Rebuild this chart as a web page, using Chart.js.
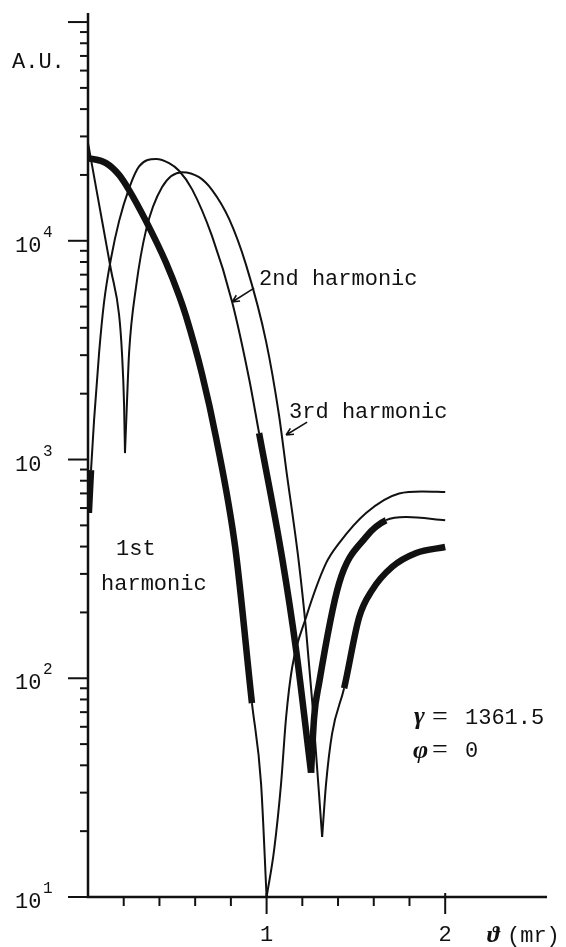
<!DOCTYPE html>
<html lang="en">
<head>
<meta charset="UTF-8">
<title>Harmonics - angular distribution</title>
<script src="https://cdn.jsdelivr.net/npm/chart.js"></script>
<style>
  html, body { margin: 0; padding: 0; background: #fff; }
  #wrap { width: 566px; height: 947px; }
</style>
</head>
<body>
<div id="wrap"><canvas id="harmChart" width="566" height="947"></canvas></div>
<script>
// theta in mr, intensity in arbitrary units
const h1Theta = [0, 0.101, 0.174, 0.230, 0.325, 0.437, 0.510, 0.549, 0.639, 0.717, 0.824, 0.918, 0.969, 1.0,
                 1.042, 1.081, 1.109, 1.143, 1.221, 1.333, 1.406, 1.557, 1.742, 1.87, 2.0];
const h1Amp = [23900, 22650, 20000, 17060, 12300, 7940, 5620, 4520, 2450, 1260, 398, 77, 33, 10,
               16.4, 33, 66, 112, 190, 336, 415, 570, 700, 715, 710];

const h2Theta = [0.005, 0.017, 0.034, 0.062, 0.090, 0.129, 0.174, 0.230, 0.286, 0.381, 0.454, 0.510, 0.583,
                 0.695, 0.807, 0.902, 0.958, 1.087, 1.165, 1.249, 1.266, 1.294, 1.406, 1.557, 1.669, 1.782, 2.0];
const h2Amp = [570, 895, 1517, 3070, 5250, 8320, 12300, 17380, 21880, 23650, 22650, 20900, 17180,
               10470, 5250, 2340, 1320, 355, 135, 37, 66, 95, 272, 443, 528, 546, 528];

const h3Theta = [0, 0.022, 0.078, 0.129, 0.174, 0.190, 0.202, 0.207, 0.218, 0.230, 0.269, 0.325, 0.415,
                 0.527, 0.622, 0.695, 0.790, 0.885, 0.997, 1.070, 1.109, 1.182, 1.221, 1.255, 1.311,
                 1.333, 1.367, 1.434, 1.518, 1.591, 1.703, 1.838, 2.0];
const h3Amp = [28000, 22300, 12450, 7330, 4590, 3090, 1780, 1070, 1810, 3070, 6150, 11190, 17620,
               20600, 19540, 17060, 12590, 7760, 3470, 1585, 912, 331, 166, 79, 18.8,
               33, 56, 90, 190, 253, 323, 374, 398];

// axis ticks
const xMinorTicks = [0.2, 0.4, 0.6, 0.8, 1.0, 1.2, 1.4, 1.6, 1.8, 2.0];
const xLabels = ['1', '2'];
const xLabelValues = [1, 2];
const yExponents = [1, 2, 3, 4, 5];
const yLabelExponents = [1, 2, 3, 4];

// stretches of each curve drawn with the heavy pen (theta ranges)
const heavy = {
  h1: [[0, 0.918]],
  h2: [[0, 0.017], [0.958, 1.669]],
  h3: [[1.434, 2.01]]
};

const INK = '#111';
const MONO = '"Liberation Mono", "DejaVu Sans Mono", monospace';
const SERIF = '"Liberation Serif", "DejaVu Serif", serif';

// split a curve at its zeros (interior minima) so each lobe ends in a sharp cusp
function lobes(theta, amp) {
  const pts = theta.map((t, i) => ({ x: t, y: amp[i] }));
  const out = [];
  let start = 0;
  for (let i = 1; i < pts.length - 1; i++) {
    if (pts[i].y < pts[i - 1].y && pts[i].y < pts[i + 1].y) {
      out.push(pts.slice(start, i + 1));
      start = i;
    }
  }
  out.push(pts.slice(start));
  return out;
}

function penWidth(spans) {
  return ctx => {
    const d = ctx.chart.data.datasets[ctx.datasetIndex].data;
    const mid = (d[ctx.p0DataIndex].x + d[ctx.p1DataIndex].x) / 2;
    return spans.some(s => mid >= s[0] && mid <= s[1]) ? 6.5 : 2;
  };
}

const datasets = [];
[['h1', h1Theta, h1Amp], ['h2', h2Theta, h2Amp], ['h3', h3Theta, h3Amp]].forEach(([key, t, a]) => {
  lobes(t, a).forEach(lobe => {
    datasets.push({
      label: key,
      data: lobe,
      borderColor: INK,
      borderWidth: 2,
      pointRadius: 0,
      cubicInterpolationMode: 'monotone',
      fill: false,
      segment: { borderWidth: penWidth(heavy[key]) }
    });
  });
});

// hand-lettered notes, placed in data coordinates
const notes = [
  { text: '2nd harmonic', theta: 0.958, amp: 6280 },
  { text: '3rd harmonic', theta: 1.126, amp: 1550 },
  { text: '1st', theta: 0.157, amp: 366 },
  { text: 'harmonic', theta: 0.073, amp: 253 }
];
const arrows = [
  { from: [0.930, 6080], to: [0.807, 5250] },
  { from: [1.227, 1483], to: [1.109, 1294] }
];

const paperAxes = {
  id: 'paperAxes',
  afterDraw(chart) {
    const { ctx, chartArea: a, scales: { x, y } } = chart;
    ctx.save();
    ctx.strokeStyle = INK;
    ctx.fillStyle = INK;
    ctx.lineCap = 'butt';

    // axis lines
    ctx.lineWidth = 2.5;
    ctx.beginPath();
    ctx.moveTo(a.left, a.top);
    ctx.lineTo(a.left, a.bottom);
    ctx.lineTo(a.right, a.bottom);
    ctx.stroke();

    // y ticks: decades long, 2..9 short, on the outside
    ctx.lineWidth = 2;
    yExponents.forEach(e => {
      for (let m = 1; m <= 9; m++) {
        const v = m * Math.pow(10, e);
        if (v > y.max || (e === 5 && m > 1)) break;
        const py = y.getPixelForValue(v);
        const len = m === 1 ? 20 : 8;
        ctx.beginPath();
        ctx.moveTo(a.left - len, py);
        ctx.lineTo(a.left, py);
        ctx.stroke();
      }
    });

    // x ticks below the axis
    xMinorTicks.forEach(v => {
      const px = x.getPixelForValue(v);
      const major = xLabelValues.includes(Math.round(v * 10) / 10);
      ctx.beginPath();
      ctx.moveTo(px, a.bottom - (major ? 4 : 0));
      ctx.lineTo(px, a.bottom + (major ? 17 : 9));
      ctx.stroke();
    });

    // y labels: 10 with raised exponent
    ctx.textBaseline = 'alphabetic';
    yLabelExponents.forEach(e => {
      const py = y.getPixelForValue(Math.pow(10, e));
      ctx.textAlign = 'left';
      ctx.font = '22px ' + MONO;
      ctx.fillText('10', 15, py + 11);
      ctx.font = '16px ' + MONO;
      ctx.fillText(String(e), 43, py - 4);
    });
    ctx.font = '22px ' + MONO;
    ctx.fillText('A.U.', 12, 68);

    // x labels
    ctx.textAlign = 'center';
    xLabels.forEach((s, i) => ctx.fillText(s, x.getPixelForValue(xLabelValues[i]), 941));
    ctx.textAlign = 'left';
    ctx.font = 'bold italic 24px ' + SERIF;
    ctx.fillText('\u03D1', 487, 942);
    ctx.font = '22px ' + MONO;
    ctx.fillText('(mr)', 507, 942);

    // curve notes
    notes.forEach(n => ctx.fillText(n.text, x.getPixelForValue(n.theta), y.getPixelForValue(n.amp)));

    // arrows
    ctx.lineWidth = 1.6;
    arrows.forEach(ar => {
      const x0 = x.getPixelForValue(ar.from[0]), y0 = y.getPixelForValue(ar.from[1]);
      const x1 = x.getPixelForValue(ar.to[0]), y1 = y.getPixelForValue(ar.to[1]);
      const ang = Math.atan2(y1 - y0, x1 - x0);
      ctx.beginPath();
      ctx.moveTo(x0, y0);
      ctx.lineTo(x1, y1);
      [0.45, -0.45].forEach(d => {
        ctx.moveTo(x1, y1);
        ctx.lineTo(x1 - 8 * Math.cos(ang + d), y1 - 8 * Math.sin(ang + d));
      });
      ctx.stroke();
    });

    // beam parameters
    ctx.font = 'bold italic 26px ' + SERIF;
    ctx.fillText('\u03B3', 414, 724);
    ctx.fillText('\u03C6', 413, 758);
    ctx.font = '28px ' + SERIF;
    ctx.fillText('=', 432, 725);
    ctx.fillText('=', 432, 758);
    ctx.font = '22px ' + MONO;
    ctx.fillText('1361.5', 465, 724);
    ctx.fillText('0', 465, 757);
    ctx.restore();
  }
};

new Chart(document.getElementById('harmChart'), {
  type: 'line',
  data: { datasets: datasets },
  options: {
    responsive: false,
    animation: false,
    layout: { padding: { left: 88, right: 19, top: 13, bottom: 50 } },
    scales: {
      x: { type: 'linear', min: 0, max: 2.57, display: false },
      y: { type: 'logarithmic', min: 10, max: 110000, display: false }
    },
    plugins: { legend: { display: false }, tooltip: { enabled: false } }
  },
  plugins: [paperAxes]
});
</script>
</body>
</html>
